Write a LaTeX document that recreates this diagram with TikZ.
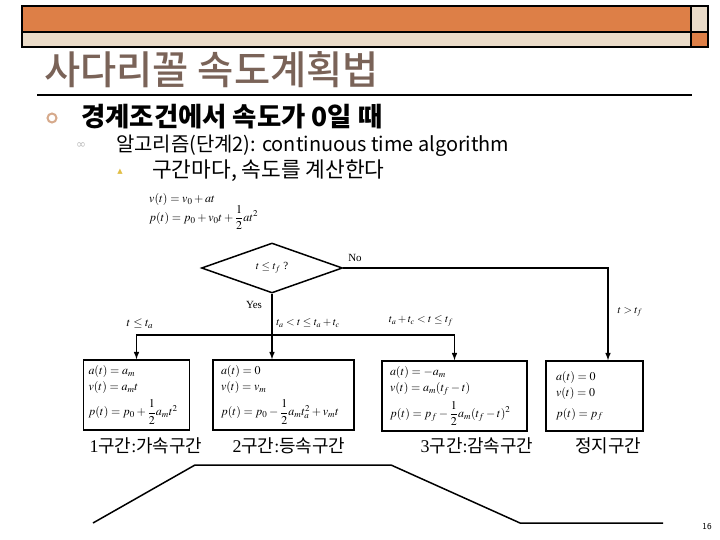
\documentclass[tikz,border=0pt]{standalone}
\usepackage{amsmath}
\usepackage{mathptmx}
\usepackage{fontspec}
\setmainfont{Liberation Serif}
\newfontfamily\kr{Noto Sans CJK KR}
\newfontfamily\krmed{Noto Sans CJK KR Medium}
\newfontfamily\sym{DejaVu Sans}
\usetikzlibrary{arrows,shapes.geometric,positioning,calc}
\definecolor{hdrorange}{RGB}{221,127,71}
\definecolor{hdrbeige}{RGB}{234,219,200}
\definecolor{titlegray}{RGB}{122,99,88}
\definecolor{ringtan}{RGB}{214,170,140}
\definecolor{tribullet}{RGB}{225,190,70}

\begin{document}
\begin{tikzpicture}[x=1bp,y=-1bp,
  flow/.style={-latex, line width=1.5bp},
  phasebox/.style={draw, line width=1.5bp, minimum height=70bp,
    align=left, font=\fontsize{12}{16}\selectfont},
  lbl/.style={font=\fontsize{11}{13}\selectfont, inner sep=1bp},
  caption/.style={font=\fontsize{18}{21}\selectfont, inner sep=0bp}]
  \useasboundingbox (0,0) rectangle (720,540);
  % header bar
  \fill[hdrorange] (22,6) rectangle (691,32);
  \fill[hdrbeige] (22,32) rectangle (691,47);
  \fill[hdrbeige] (691,6) rectangle (708,32);
  \fill[hdrorange] (691,32) rectangle (708,47);
  \draw[line width=1.5bp] (22,6) rectangle (708,47);
  \draw[line width=1.5bp] (22,32) -- (708,32);
  \draw[line width=1.5bp] (691,6) -- (691,47);
  % title
  \node[anchor=west, inner sep=0, text=titlegray, font=\krmed\fontsize{39.5}{43}\selectfont] (title) at (44,70) {사다리꼴 속도계획법};
  \draw[line width=1.5bp] (37,95) -- (692,95);
  % bullets
  \draw[ringtan, line width=2bp] (52,118) circle (4.5);
  \node[anchor=west, inner sep=0, font=\kr\bfseries\fontsize{26.5}{30}\selectfont] (head) at (81,117) {경계조건에서 속도가 0일 때};
  \node[inner sep=0, text=gray!55, font=\sym\fontsize{12}{13}\selectfont] (dot2) at (81,146) {∞};
  \node[anchor=west, inner sep=0, font=\kr\fontsize{20}{23}\selectfont] (algo) at (116,146) {알고리즘(단계2): continuous time algorithm};
  \node[inner sep=0, text=tribullet, font=\sym\fontsize{7}{8}\selectfont] (dot3) at (120,172) {▲};
  \node[anchor=west, inner sep=0, font=\kr\fontsize{21.5}{24}\selectfont] (sect) at (152,171) {구간마다, 속도를 계산한다};
  % initial equations
  \node[anchor=north west, inner sep=0, align=left, font=\fontsize{12}{14}\selectfont] (init) at (149,193)
    {$v(t) = v_0 + at$\\[-1pt] $p(t) = p_0 + v_0 t + \dfrac{1}{2}at^2$};
  % decision
  \node[draw, diamond, line width=1.5bp, minimum width=141bp, minimum height=50bp, inner sep=0,
    font=\fontsize{11}{13}\selectfont] (cond) at (272,268) {$t \le t_f$ ?};
  \node[lbl] (lblno) at (355,258) {No};
  \node[lbl] (lblyes) at (254,305) {Yes};
  % phase boxes
  \node[phasebox, text width=96bp, inner xsep=5bp] (phase1) at (136.5,395) {$a(t) = a_m$\\ $v(t) = a_m t$\\[5pt] $p(t) = p_0 + \dfrac{1}{2}a_m t^2$};
  \node[phasebox, text width=125bp, inner xsep=8bp] (phase2) at (283.5,395) {$a(t) = 0$\\ $v(t) = v_m$\\[5pt] $p(t) = p_0 - \dfrac{1}{2}a_m t_a^2 + v_m t$};
  \node[phasebox, text width=129bp, inner xsep=8bp] (phase3) at (454.5,396) {$a(t) = -a_m$\\ $v(t) = a_m(t_f - t)$\\[5pt] $p(t) = p_f - \dfrac{1}{2}a_m (t_f - t)^2$};
  \node[phasebox, text width=77bp, inner xsep=10bp] (phase4) at (594.5,396) {$a(t) = 0$\\ $v(t) = 0$\\[5pt] $p(t) = p_f$};
  % connectors
  \coordinate (nobend) at (608,268);
  \coordinate (split) at (272,335);
  \draw[flow] (cond.east) -- (nobend) -- (nobend |- phase4.north);
  \draw[flow] (cond.south) -- (cond.south |- phase2.north);
  \draw[flow] (split) -| (phase1.north);
  \draw[flow] (split) -| (phase3.north);
  % branch labels
  \node[lbl, font=\fontsize{12}{14}\selectfont] (lbl1) at (140,324) {$t \le t_a$};
  \node[lbl] (lbl2) at (308,323) {$t_a < t \le t_a + t_c$};
  \node[lbl] (lbl3) at (421,321) {$t_a + t_c < t \le t_f$};
  \node[lbl] (lbl4) at (630,312) {$t > t_f$};
  % captions
  \node[caption] (cap1) at (146,446) {1{\kr 구간}:{\kr 가속구간}};
  \node[caption] (cap2) at (289,446) {2{\kr 구간}:{\kr 등속구간}};
  \node[caption] (cap3) at (477,446) {3{\kr 구간}:{\kr 감속구간}};
  \node[caption] (cap4) at (608,446) {\kr 정지구간};
  % velocity profile
  \draw[line width=1.5bp] (93,523) -- (195,465) -- (391,465) -- (520,523) -- (663,523);
  % page number
  \node[inner sep=0, font=\sffamily\fontsize{9}{10}\selectfont] (page) at (707,527) {16};
\end{tikzpicture}
\end{document}
